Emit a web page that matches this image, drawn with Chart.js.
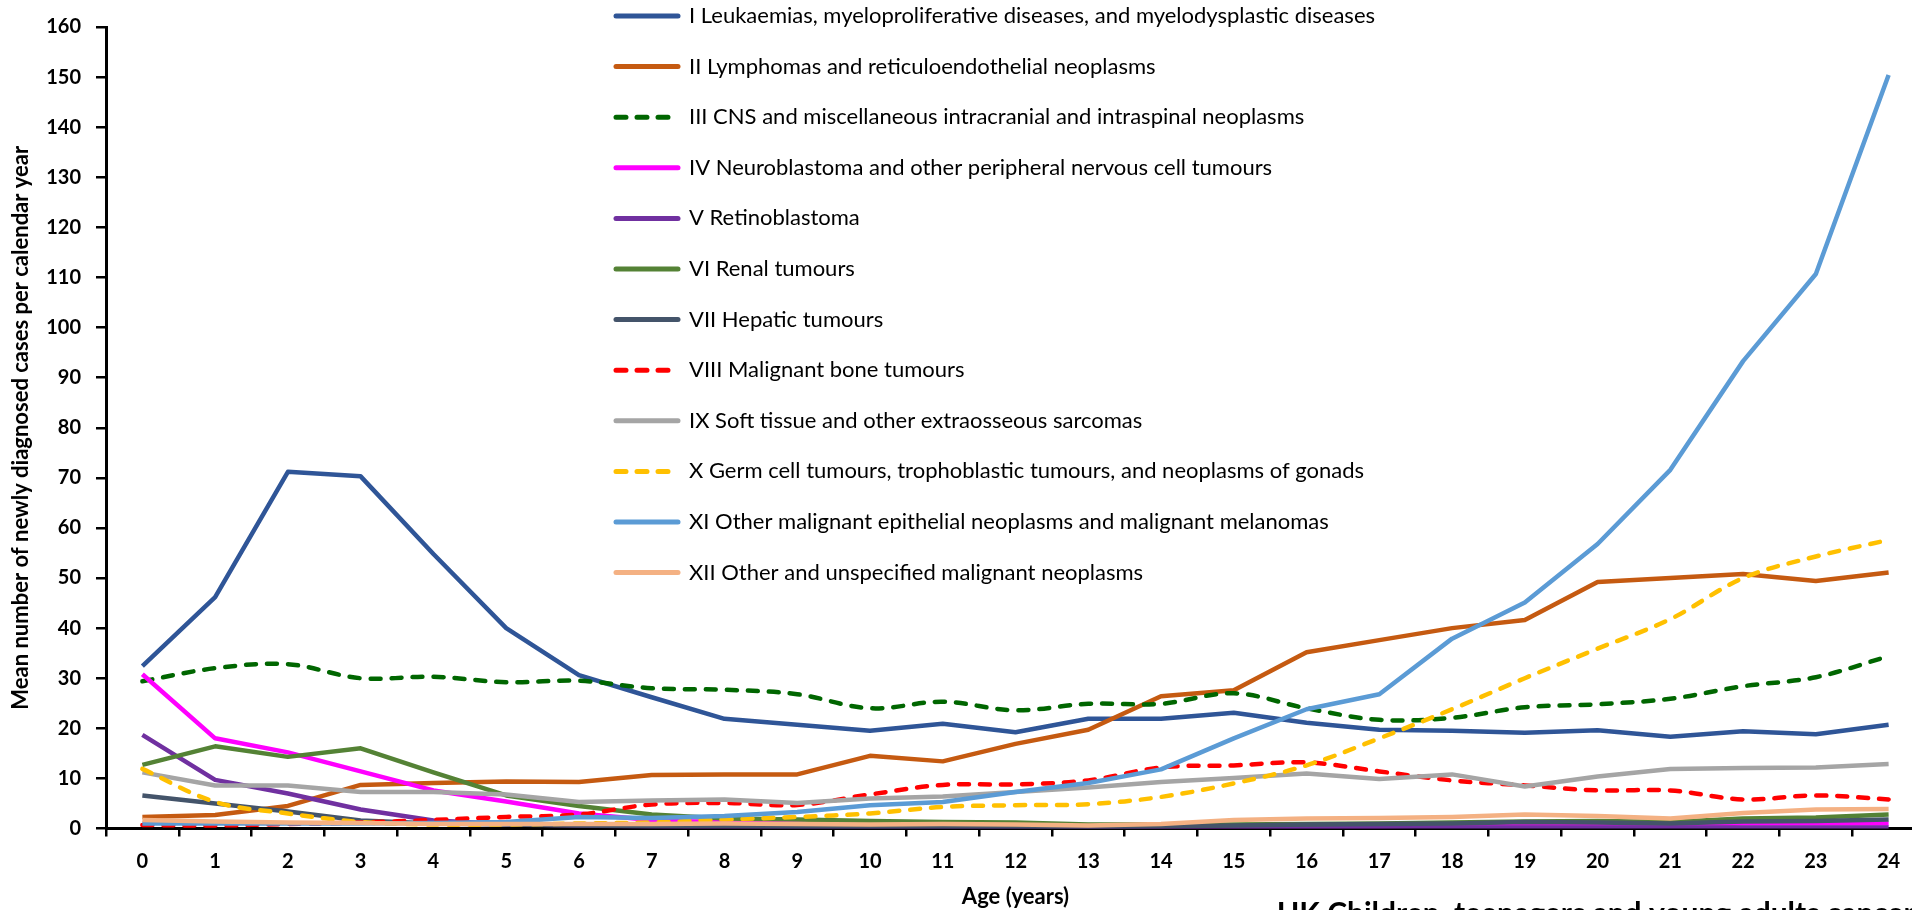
<!DOCTYPE html>
<html>
<head>
<meta charset="utf-8">
<script src="https://cdn.jsdelivr.net/npm/chart.js@4.4.1/dist/chart.umd.min.js"></script>
<style>
  html, body { margin: 0; padding: 0; background: #fff; overflow: hidden; }
  #wrap { width: 1932px; height: 910px; }
</style>
</head>
<body>
<div id="wrap"><canvas id="myChart" width="1932" height="910"></canvas></div>
<script>
// ages 0..24
var ages = ["0","1","2","3","4","5","6","7","8","9","10","11","12","13","14","15","16","17","18","19","20","21","22","23","24"];

var leukaemias = [32.4, 46.2, 71.2, 70.3, 54.8, 40.0, 30.6, 26.2, 21.9, 20.7, 19.5, 20.9, 19.2, 21.9, 21.9, 23.1, 21.1, 19.7, 19.5, 19.1, 19.6, 18.3, 19.4, 18.8, 20.7];
var lymphomas = [2.3, 2.7, 4.5, 8.7, 9.1, 9.4, 9.3, 10.7, 10.8, 10.8, 14.5, 13.4, 16.9, 19.7, 26.4, 27.6, 35.2, 37.6, 40.0, 41.6, 49.2, 50.0, 50.8, 49.4, 51.1];
var cns = [29.4, 32.0, 32.8, 30.0, 30.3, 29.2, 29.5, 28.0, 27.7, 26.8, 24.0, 25.3, 23.6, 24.9, 24.9, 27.0, 24.0, 21.7, 22.1, 24.2, 24.8, 25.9, 28.4, 30.2, 34.4];
var neuroblastoma = [30.8, 18.0, 15.2, 11.4, 7.6, 5.4, 3.0, 1.7, 1.2, 1.0, 0.8, 0.7, 0.6, 0.5, 0.5, 0.5, 0.5, 0.5, 0.6, 0.6, 0.6, 0.6, 1.0, 1.0, 1.0];
var retinoblastoma = [18.7, 9.7, 7.0, 3.8, 1.6, 0.9, 0.6, 0.4, 0.3, 0.3, 0.2, 0.2, 0.2, 0.2, 0.2, 0.2, 0.2, 0.2, 0.2, 0.2, 0.2, 0.2, 0.2, 0.2, 0.2];
var renal = [12.7, 16.4, 14.3, 16.0, 11.2, 6.6, 4.5, 2.8, 2.0, 1.8, 1.5, 1.3, 1.2, 0.8, 0.8, 0.8, 0.9, 1.0, 1.2, 1.4, 1.5, 1.3, 2.0, 2.2, 2.8];
var hepatic = [6.6, 5.0, 3.4, 1.6, 1.0, 0.8, 0.6, 0.5, 0.5, 0.4, 0.4, 0.4, 0.4, 0.3, 0.4, 0.6, 0.8, 0.9, 1.0, 1.3, 1.2, 1.0, 1.4, 1.5, 1.8];
var bone = [0.7, 0.6, 0.9, 1.2, 1.7, 2.3, 2.8, 4.8, 5.1, 4.7, 6.8, 8.7, 8.8, 9.6, 12.2, 12.6, 13.2, 11.4, 9.6, 8.6, 7.6, 7.6, 5.8, 6.6, 5.8];
var softTissue = [11.2, 8.6, 8.6, 7.3, 7.3, 6.8, 5.3, 5.6, 5.8, 5.1, 6.0, 6.4, 7.3, 8.2, 9.3, 10.1, 11.0, 9.9, 10.8, 8.4, 10.4, 11.9, 12.1, 12.2, 12.9];
var germCell = [11.9, 5.3, 3.0, 1.3, 0.8, 0.8, 1.0, 1.2, 1.8, 2.3, 3.0, 4.3, 4.65, 4.85, 6.3, 9.0, 12.6, 18.0, 23.8, 30.0, 35.9, 41.8, 50.0, 54.3, 57.6];
var epithelial = [1.0, 1.0, 1.0, 1.0, 1.1, 1.3, 2.3, 2.1, 2.5, 3.3, 4.65, 5.3, 7.3, 9.1, 11.8, 18.0, 23.8, 26.8, 37.9, 45.1, 56.8, 71.6, 93.3, 110.7, 150.4];
var otherUnspecified = [1.7, 1.4, 1.2, 1.1, 0.9, 0.9, 0.9, 0.9, 1.0, 0.9, 0.8, 0.9, 0.8, 0.6, 0.9, 1.7, 2.0, 2.1, 2.3, 2.8, 2.5, 2.0, 3.1, 3.8, 3.9];

var yTitle = "Mean number of newly diagnosed cases per calendar year";
var xTitle = "Age (years)";
var footText = "UK Children, teenagers and young adults cancer";

var dash = [10, 11];

function series(label, data, color, dashed) {
  return {
    label: label,
    data: data,
    borderColor: color,
    backgroundColor: color,
    borderWidth: 4.5,
    borderDash: dashed ? dash : [],
    borderCapStyle: dashed ? "round" : "butt",
    borderJoinStyle: "round",
    tension: dashed ? 0.35 : 0,
    pointRadius: 0,
    fill: false
  };
}

var datasets = [
  series("I Leukaemias, myeloproliferative diseases, and myelodysplastic diseases", leukaemias, "#2F5597", false),
  series("II Lymphomas and reticuloendothelial neoplasms", lymphomas, "#C55A11", false),
  series("III CNS and miscellaneous intracranial and intraspinal neoplasms", cns, "#006600", true),
  series("IV Neuroblastoma and other peripheral nervous cell tumours", neuroblastoma, "#FF00FF", false),
  series("V Retinoblastoma", retinoblastoma, "#7030A0", false),
  series("VI Renal tumours", renal, "#548235", false),
  series("VII Hepatic tumours", hepatic, "#44546A", false),
  series("VIII Malignant bone tumours", bone, "#FF0000", true),
  series("IX Soft tissue and other extraosseous sarcomas", softTissue, "#A5A5A5", false),
  series("X Germ cell tumours, trophoblastic tumours, and neoplasms of gonads", germCell, "#FFC000", true),
  series("XI Other malignant epithelial neoplasms and malignant melanomas", epithelial, "#5B9BD5", false),
  series("XII Other and unspecified malignant neoplasms", otherUnspecified, "#F4B183", false)
];
// later series are drawn on top, like the original
datasets.forEach(function(d, i) { d.order = datasets.length - i; });

// put the legend column inside the plot, right of centre
var legendPlace = {
  id: "legendPlace",
  afterLayout: function(chart) {
    var lg = chart.legend;
    lg.left = 587.4; lg.right = 1912;
    lg.top = -23.6; lg.bottom = 700;
  }
};

var footNote = {
  id: "footNote",
  afterDraw: function(chart) {
    var ctx = chart.ctx;
    ctx.save();
    ctx.font = "bold 30px Lato";
    ctx.fillStyle = "#000";
    ctx.textBaseline = "alphabetic";
    ctx.fillText(footText, 1277, 924);
    ctx.restore();
  }
};

var tickFont = { family: "Lato", weight: "bold", size: 20 };
var titleFont = { family: "Lato", weight: "bold", size: 22 };

function legendLabels(chart) {
  var items = Chart.defaults.plugins.legend.labels.generateLabels(chart);
  items.forEach(function(it) {
    var ds = chart.data.datasets[it.datasetIndex];
    it.lineDash = ds.borderDash;
    it.lineWidth = 5;
    it.lineCap = "round";
  });
  return items;
}

function draw() {
  var ctx = document.getElementById("myChart").getContext("2d");
  new Chart(ctx, {
    type: "line",
    data: { labels: ages, datasets: datasets },
    plugins: [legendPlace, footNote],
    options: {
      responsive: false,
      animation: false,
      layout: { padding: { left: 0, top: 20, right: 7, bottom: 0 } },
      plugins: {
        tooltip: { enabled: false },
        legend: {
          position: "chartArea",
          align: "start",
          labels: {
            usePointStyle: true,
            pointStyle: "line",
            pointStyleWidth: 62,
            color: "#000",
            font: { family: "Lato", size: 22 },
            padding: 28.6,
            generateLabels: legendLabels,
            sort: function(a, b) { return a.datasetIndex - b.datasetIndex; }
          }
        }
      },
      scales: {
        x: {
          offset: true,
          grid: { drawOnChartArea: false, offset: true, tickLength: 8, color: "#000", lineWidth: 2.5 },
          border: { color: "#000", width: 3 },
          ticks: { color: "#000", font: tickFont, padding: 13, maxRotation: 0, autoSkip: false },
          title: { display: true, text: xTitle, color: "#000", font: titleFont, padding: { top: 0, bottom: 0 } },
          afterFit: function(s) { s.height = 81.5; }
        },
        y: {
          min: 0,
          max: 160,
          grid: { drawOnChartArea: false, tickLength: 10, color: "#000", lineWidth: 2.5 },
          border: { color: "#000", width: 3 },
          ticks: { stepSize: 10, color: "#000", font: tickFont, padding: 15 },
          title: { display: true, text: yTitle, color: "#000", font: titleFont, padding: { top: 8, bottom: 0 } },
          afterFit: function(s) { s.width = 106; }
        }
      }
    }
  });
}

if (document.fonts && document.fonts.load) {
  Promise.all([document.fonts.load("bold 20px Lato"), document.fonts.load("22px Lato")]).then(draw, draw);
} else {
  draw();
}
</script>
</body>
</html>
